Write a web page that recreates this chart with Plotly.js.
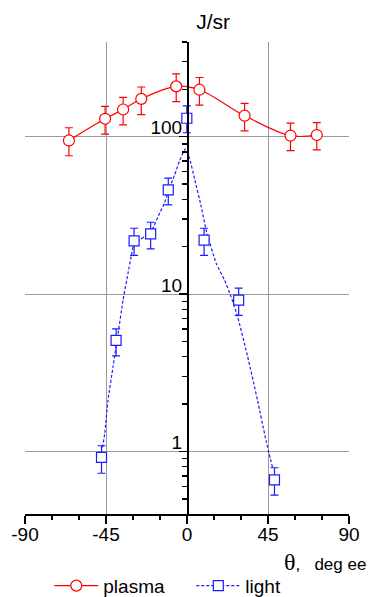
<!DOCTYPE html>
<html><head><meta charset="utf-8">
<script src="https://cdn.plot.ly/plotly-3.0.1.min.js"></script>
<style>html,body{margin:0;padding:0;background:#fff}#chart{width:370px;height:597px}</style>
</head><body><div id="chart"></div>
<script>
const plasmaTheta = [-65.6, -45.5, -35.5, -25.4, -6.0, 6.9, 32.0, 57.5, 72.1];
const plasmaValue = [94.7, 130, 149, 174, 209, 199, 136, 101.5, 102.5];
const plasmaErrPlus = [19.3, 26, 29, 33, 42, 39, 27, 20.5, 20.5];
const plasmaErrMinus = [19, 26, 30, 36, 42, 40, 27, 20, 20];

const lightTheta = [-47.5, -39.4, -29.4, -20.2, -10.4, -0.1, 9.5, 28.7, 48.6];
const lightValue = [0.916, 5.07, 21.8, 24.1, 45.9, 131, 22.0, 9.16, 0.66];
const lightErrPlus = [0.17, 0.93, 4.4, 4.5, 8.7, 26, 4.2, 1.74, 0.127];
const lightErrMinus = [0.19, 1.02, 4.2, 4.7, 9.0, 25, 4.4, 1.84, 0.133];

const lightCurveTheta = [-46.9, -45.7, -43.9, -41.1, -38.3, -35.5, -32.8, -30.9, -29.4, -26.3, -23.5, -20.2, -18.9, -15.2, -12.5, -10.2, -6.9, -4.2, -1.0, 1.4, 4.2, 7.9, 10.6, 16.2, 20.8, 24.5, 28.1, 33.7, 39.2, 43.9, 47.5];
const lightCurveValue = [1.06, 1.30, 2.11, 3.44, 5.6, 9.2, 13.5, 17.7, 21, 22.1, 23.2, 24.5, 26.2, 32.7, 38, 46, 57, 70, 83.5, 73, 54, 36, 25.6, 15.7, 12.3, 9.6, 7.2, 4.0, 2.11, 1.17, 0.79];

const xTickVals = [-90, -45, 0, 45, 90];
const xTickText = ['-90', '-45', '0', '45', '90'];
const yTickVals = [1, 10, 100];
const yTickText = ['1', '10', '100'];
const yMinorVals = [0.5, 0.6, 0.7, 0.8, 0.9, 2, 3, 4, 5, 6, 7, 8, 9, 20, 30, 40, 50, 60, 70, 80, 90, 200, 300, 400];

const RED = '#ff0000';
const BLUE = '#1a1aff';
const FONT = 'Liberation Sans, Arial, sans-serif';

const traces = [
  {
    x: plasmaTheta, y: plasmaValue, name: 'plasma', mode: 'lines+markers',
    line: {color: RED, width: 1.2, shape: 'spline', smoothing: 1},
    marker: {symbol: 'circle', size: 11, color: '#ffffff', line: {color: RED, width: 1.2}},
    error_y: {type: 'data', symmetric: false, array: plasmaErrPlus, arrayminus: plasmaErrMinus, color: RED, thickness: 1.2, width: 4}
  },
  {
    x: lightCurveTheta, y: lightCurveValue, name: 'light fit', mode: 'lines', showlegend: false,
    line: {color: BLUE, width: 1.2, dash: '3px,2px', shape: 'spline', smoothing: 0.4}
  },
  {
    x: lightTheta, y: lightValue, name: 'light', mode: 'markers', showlegend: false,
    marker: {symbol: 'square', size: 10, color: '#ffffff', line: {color: BLUE, width: 1.2}},
    error_y: {type: 'data', symmetric: false, array: lightErrPlus, arrayminus: lightErrMinus, color: BLUE, thickness: 1.2, width: 4}
  },
  {
    x: [null], y: [null], name: 'light', mode: 'lines+markers',
    line: {color: BLUE, width: 1.2, dash: '3px,2px'},
    marker: {symbol: 'square', size: 10, color: '#ffffff', line: {color: BLUE, width: 1.2}}
  }
];

const layout = {
  width: 370, height: 597,
  margin: {l: 24.5, r: 20.5, t: 42, b: 83, autoexpand: false},
  paper_bgcolor: '#ffffff', plot_bgcolor: '#ffffff',
  font: {family: FONT, size: 19, color: '#000'},
  showlegend: true,
  title: {text: 'J/sr', x: 0.576, xanchor: 'center', y: 0.963, yanchor: 'middle', font: {family: FONT, size: 21, color: '#000'}},
  xaxis: {
    range: [-90, 90], tickmode: 'array', tickvals: xTickVals, ticktext: xTickText,
    showline: true, linecolor: '#000', linewidth: 1.5, mirror: false,
    ticks: 'outside', ticklen: 8, tickwidth: 1.5, tickcolor: '#000',
    showgrid: true, gridcolor: '#9a9a9a', gridwidth: 1, zeroline: false,
    minor: {dtick: 15, ticks: 'outside', ticklen: 4, tickwidth: 1.5, tickcolor: '#000', showgrid: false},
    tickfont: {family: FONT, size: 19, color: '#000'},
    ticklabelstandoff: -5
  },
  yaxis: {
    type: 'log', range: [Math.log10(0.4), Math.log10(400)],
    anchor: 'free', position: 0.5, side: 'left',
    tickmode: 'array', tickvals: yTickVals, ticktext: yTickText,
    showline: true, linecolor: '#000', linewidth: 1.8,
    ticks: 'outside', ticklen: 8, tickwidth: 1.5, tickcolor: '#000',
    showgrid: true, gridcolor: '#9a9a9a', gridwidth: 1, zeroline: false,
    minor: {tickmode: 'array', tickvals: yMinorVals, ticks: 'outside', ticklen: 5, tickwidth: 1.5, tickcolor: '#000', showgrid: false},
    tickfont: {family: FONT, size: 19, color: '#000'},
    ticklabelshift: -9, ticklabelstandoff: -7
  },
  legend: {
    orientation: 'h', x: 0.075, xanchor: 'left', y: -0.152, yanchor: 'middle',
    font: {family: FONT, size: 19, color: '#000'}, itemwidth: 44,
    entrywidth: 83, entrywidthmode: 'pixels', bgcolor: 'rgba(0,0,0,0)'
  },
  annotations: [
    {
      xref: 'paper', yref: 'paper', x: 1.06, y: -0.102, xanchor: 'right', yanchor: 'middle',
      showarrow: false,
      text: '<span style="font-family:Liberation Serif, Times New Roman, serif;font-size:24px">θ</span>,&nbsp;&nbsp; deg ee',
      font: {family: FONT, size: 17, color: '#000'}
    }
  ]
};

Plotly.newPlot('chart', traces, layout, {displayModeBar: false, staticPlot: true});
</script>
</body></html>
